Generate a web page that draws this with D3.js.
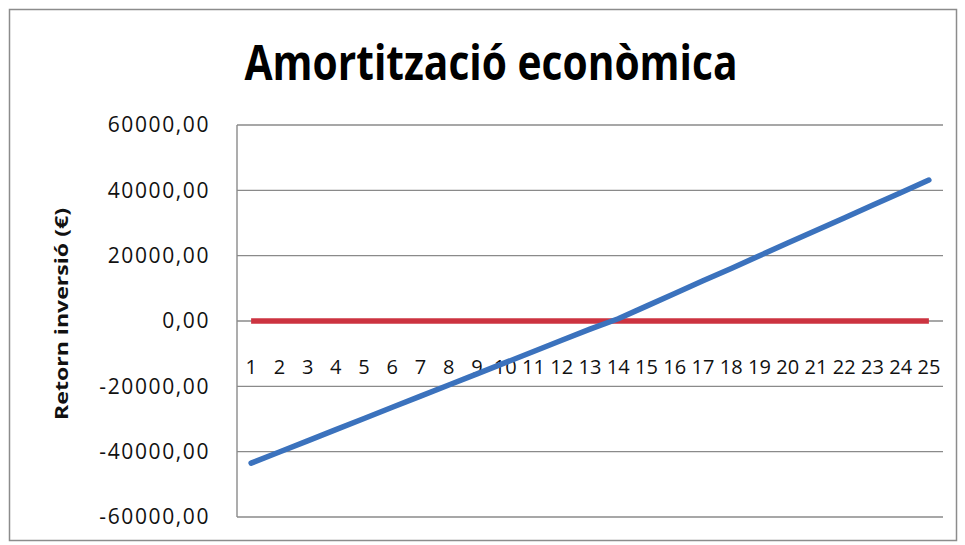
<!DOCTYPE html>
<meta charset="utf-8">

<head>
    <script src="https://d3js.org/d3.v7.min.js"></script>
	<style>
        body {
            margin: 0;
            background: #fff;
        }

        .axis text {
            font-family: "Open Sans", sans-serif;
            font-size: 20px;
            fill: #111;
        }

        .yaxis text {
            font-size: 21px;
            letter-spacing: 1.6px;
        }

        .grid line {
            stroke: #8a8a8a;
            stroke-width: 1.4px;
        }
	</style>
</head>

<body>

<svg width="965" height="545"></svg>

<script>

// years 1..25
var years = d3.range(1, 26);

// cumulative return of the investment (€)
var retorn = [-43500, -40100, -36700, -33250, -29850, -26400, -23000, -19600, -16200, -12750,
              -9350, -5900, -2500, 700, 4550, 8400, 12300, 16100, 20000, 23850,
              27700, 31550, 35400, 39250, 43150];

// break-even reference line
var zero = years.map(function() { return 0; });

var yTicks = [-60000, -40000, -20000, 0, 20000, 40000, 60000];

var svg = d3.select("svg");

var plotLeft = 237, plotRight = 943, plotTop = 125, plotBottom = 517;

// outer chart border
svg.append("rect")
    .attr("x", 9.5)
    .attr("y", 9.5)
    .attr("width", 947)
    .attr("height", 531)
    .attr("fill", "#fff")
    .attr("stroke", "#8c8c8c")
    .attr("stroke-width", 1.5);

svg.append("text")
    .attr("x", 491)
    .attr("y", 80)
    .attr("text-anchor", "middle")
    .attr("font-family", "'Open Sans', sans-serif")
    .attr("font-weight", "bold")
    .attr("font-size", "48px")
    .attr("textLength", 493)
    .attr("lengthAdjust", "spacingAndGlyphs")
    .attr("fill", "#000")
    .text("Amortització econòmica");

var xScale = d3.scaleBand().domain(years).range([plotLeft, plotRight]).padding(0),
    yScale = d3.scaleLinear().domain([-60000, 60000]).range([plotBottom, plotTop]);

function xc(d) { return xScale(d) + xScale.bandwidth() / 2; }

// horizontal gridlines
svg.append("g")
    .attr("class", "grid")
    .selectAll("line")
    .data(yTicks)
    .enter().append("line")
    .attr("x1", plotLeft)
    .attr("x2", plotRight)
    .attr("y1", function(d) { return yScale(d); })
    .attr("y2", function(d) { return yScale(d); });

// left axis line
svg.append("line")
    .attr("x1", plotLeft)
    .attr("x2", plotLeft)
    .attr("y1", plotTop)
    .attr("y2", plotBottom)
    .attr("stroke", "#8a8a8a")
    .attr("stroke-width", 1.4);

var yAxis = svg.append("g")
    .attr("class", "axis yaxis")
    .attr("transform", "translate(" + plotLeft + ",0)")
    .call(d3.axisLeft(yScale)
        .tickValues(yTicks)
        .tickSize(0)
        .tickPadding(27)
        .tickFormat(function(d) { return d3.format(".2f")(d).replace(".", ",").replace("−", "-"); }));
yAxis.select(".domain").remove();

var xAxis = svg.append("g")
    .attr("class", "axis")
    .attr("transform", "translate(0," + yScale(0) + ")")
    .call(d3.axisBottom(xScale).tickSize(0).tickPadding(39));
xAxis.select(".domain").remove();

svg.append("text")
    .attr("transform", "translate(68,314) rotate(-90)")
    .attr("text-anchor", "middle")
    .attr("font-family", "'Open Sans', sans-serif")
    .attr("font-weight", "bold")
    .attr("font-size", "18px")
    .attr("textLength", 212)
    .attr("lengthAdjust", "spacingAndGlyphs")
    .attr("fill", "#111")
    .text("Retorn inversió (€)");

var line = d3.line()
    .x(function(d, i) { return xc(years[i]); })
    .y(function(d) { return yScale(d); });

svg.append("path")
    .datum(zero)
    .attr("d", line)
    .attr("fill", "none")
    .attr("stroke", "#cc3340")
    .attr("stroke-width", 5.5);

svg.append("path")
    .datum(retorn)
    .attr("d", line)
    .attr("fill", "none")
    .attr("stroke", "#3b72bd")
    .attr("stroke-width", 5.5)
    .attr("stroke-linecap", "round")
    .attr("stroke-linejoin", "round");

</script>

</body>
